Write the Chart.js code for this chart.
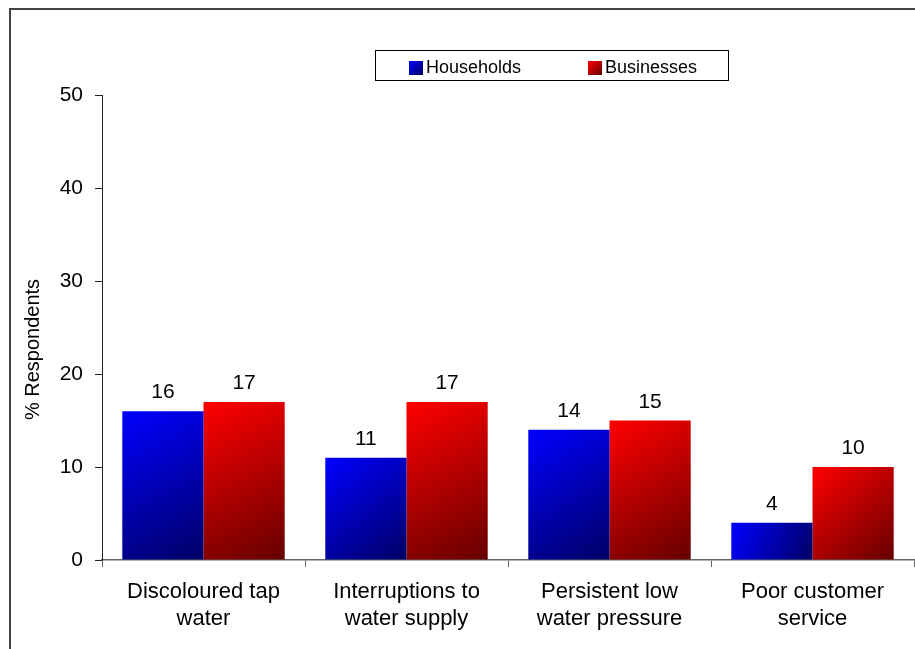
<!DOCTYPE html>
<html>
<head>
<meta charset="utf-8">
<script src="https://cdn.jsdelivr.net/npm/chart.js@4.4.1/dist/chart.umd.min.js"></script>
<style>
  html, body { margin: 0; padding: 0; background: #fff; overflow: hidden; }
  #frame { position: absolute; left: 9px; top: 8px; width: 920px; height: 660px;
           border-left: 2px solid #444; border-top: 2px solid #444; }
  #wrap { position: absolute; left: 0; top: 0; width: 915px; height: 649px; }
</style>
</head>
<body>
<div id="frame"></div>
<div id="wrap"><canvas id="chart" width="915" height="649"></canvas></div>
<script>
// valeurs
const categories = [
    ['Discoloured tap', 'water'],
    ['Interruptions to', 'water supply'],
    ['Persistent low', 'water pressure'],
    ['Poor customer', 'service']
];
const households = [16, 11, 14, 4];
const businesses = [17, 17, 15, 10];
const seriesNames = ['Households', 'Businesses'];
const yMin = 0;
const yMax = 50;
const yStep = 10;

const FONT = "'Liberation Sans', Arial, sans-serif";
const gradFrom = ['#0000ff', '#ff0000'];
const gradTo = ['#000066', '#660000'];

// dégradé diagonal sur chaque barre
const gradientBars = {
    id: 'gradientBars',
    beforeDatasetsDraw: (chart) => {
        const ctx = chart.ctx;
        chart.data.datasets.forEach((ds, i) => {
            chart.getDatasetMeta(i).data.forEach(bar => {
                const { x, y, width, base } = bar.getProps(['x', 'y', 'width', 'base'], true);
                const g = ctx.createLinearGradient(x - width / 2, y, x + width / 2, base);
                g.addColorStop(0, gradFrom[i]);
                g.addColorStop(1, gradTo[i]);
                bar.options = Object.assign({}, bar.options, { backgroundColor: g });
            });
        });
    }
};

// étiquettes de valeur au-dessus des barres
const valueLabels = {
    id: 'valueLabels',
    afterDatasetsDraw: (chart) => {
        const ctx = chart.ctx;
        ctx.save();
        ctx.font = '21px ' + FONT;
        ctx.fillStyle = '#000';
        ctx.textAlign = 'center';
        ctx.textBaseline = 'alphabetic';
        chart.data.datasets.forEach((ds, i) => {
            chart.getDatasetMeta(i).data.forEach((bar, j) => {
                ctx.fillText(String(ds.data[j]), bar.x, bar.y - 13);
            });
        });
        ctx.restore();
    }
};

// légende encadrée + titre de l'axe Y
const boxLegend = {
    id: 'boxLegend',
    afterDraw: (chart) => {
        const ctx = chart.ctx;
        ctx.save();
        // cadre
        ctx.strokeStyle = '#000';
        ctx.lineWidth = 1;
        ctx.strokeRect(375.5, 50.5, 353, 30);
        ctx.font = '18px ' + FONT;
        ctx.textBaseline = 'middle';
        ctx.textAlign = 'left';
        const itemX = [409, 588];
        chart.data.datasets.forEach((ds, i) => {
            const g = ctx.createLinearGradient(itemX[i], 61, itemX[i] + 14, 75);
            g.addColorStop(0, gradFrom[i]);
            g.addColorStop(1, gradTo[i]);
            ctx.fillStyle = g;
            ctx.fillRect(itemX[i], 61, 14, 14);
            ctx.fillStyle = '#000';
            ctx.fillText(ds.label, itemX[i] + 17, 68);
        });

        // titre Y
        const area = chart.chartArea;
        ctx.translate(33, (area.top + area.bottom) / 2 + 22);
        ctx.rotate(-Math.PI / 2);
        ctx.font = '20px ' + FONT;
        ctx.textAlign = 'center';
        ctx.fillText('% Respondents', 0, 0);
        ctx.restore();
    }
};

const ctx = document.getElementById('chart').getContext('2d');
new Chart(ctx, {
    type: 'bar',
    data: {
        labels: categories,
        datasets: [
            { label: seriesNames[0], data: households, backgroundColor: gradFrom[0], borderWidth: 0 },
            { label: seriesNames[1], data: businesses, backgroundColor: gradFrom[1], borderWidth: 0 }
        ]
    },
    options: {
        responsive: false,
        animation: false,
        events: [],
        layout: { padding: { top: 95, right: 1, left: 0, bottom: 0 } },
        datasets: { bar: { categoryPercentage: 0.8, barPercentage: 1.0 } },
        plugins: { legend: { display: false }, tooltip: { enabled: false } },
        scales: {
            x: {
                grid: { display: true, drawOnChartArea: false, drawTicks: true, tickLength: 7, color: '#666', offset: true },
                border: { display: true, color: '#666', width: 1.5 },
                ticks: { color: '#000', padding: 12, maxRotation: 0, autoSkip: false,
                         font: { family: FONT, size: 22, lineHeight: 1.2 } },
                afterFit: (scale) => { scale.height = 89; }
            },
            y: {
                min: yMin,
                max: yMax,
                grid: { display: true, drawOnChartArea: false, drawTicks: true, tickLength: 7, color: '#222' },
                border: { display: true, color: '#222', width: 1 },
                ticks: { stepSize: yStep, color: '#000', padding: 12,
                         font: { family: FONT, size: 21 } },
                afterFit: (scale) => { scale.width = 102; }
            }
        }
    },
    plugins: [gradientBars, valueLabels, boxLegend]
});
</script>
</body>
</html>
